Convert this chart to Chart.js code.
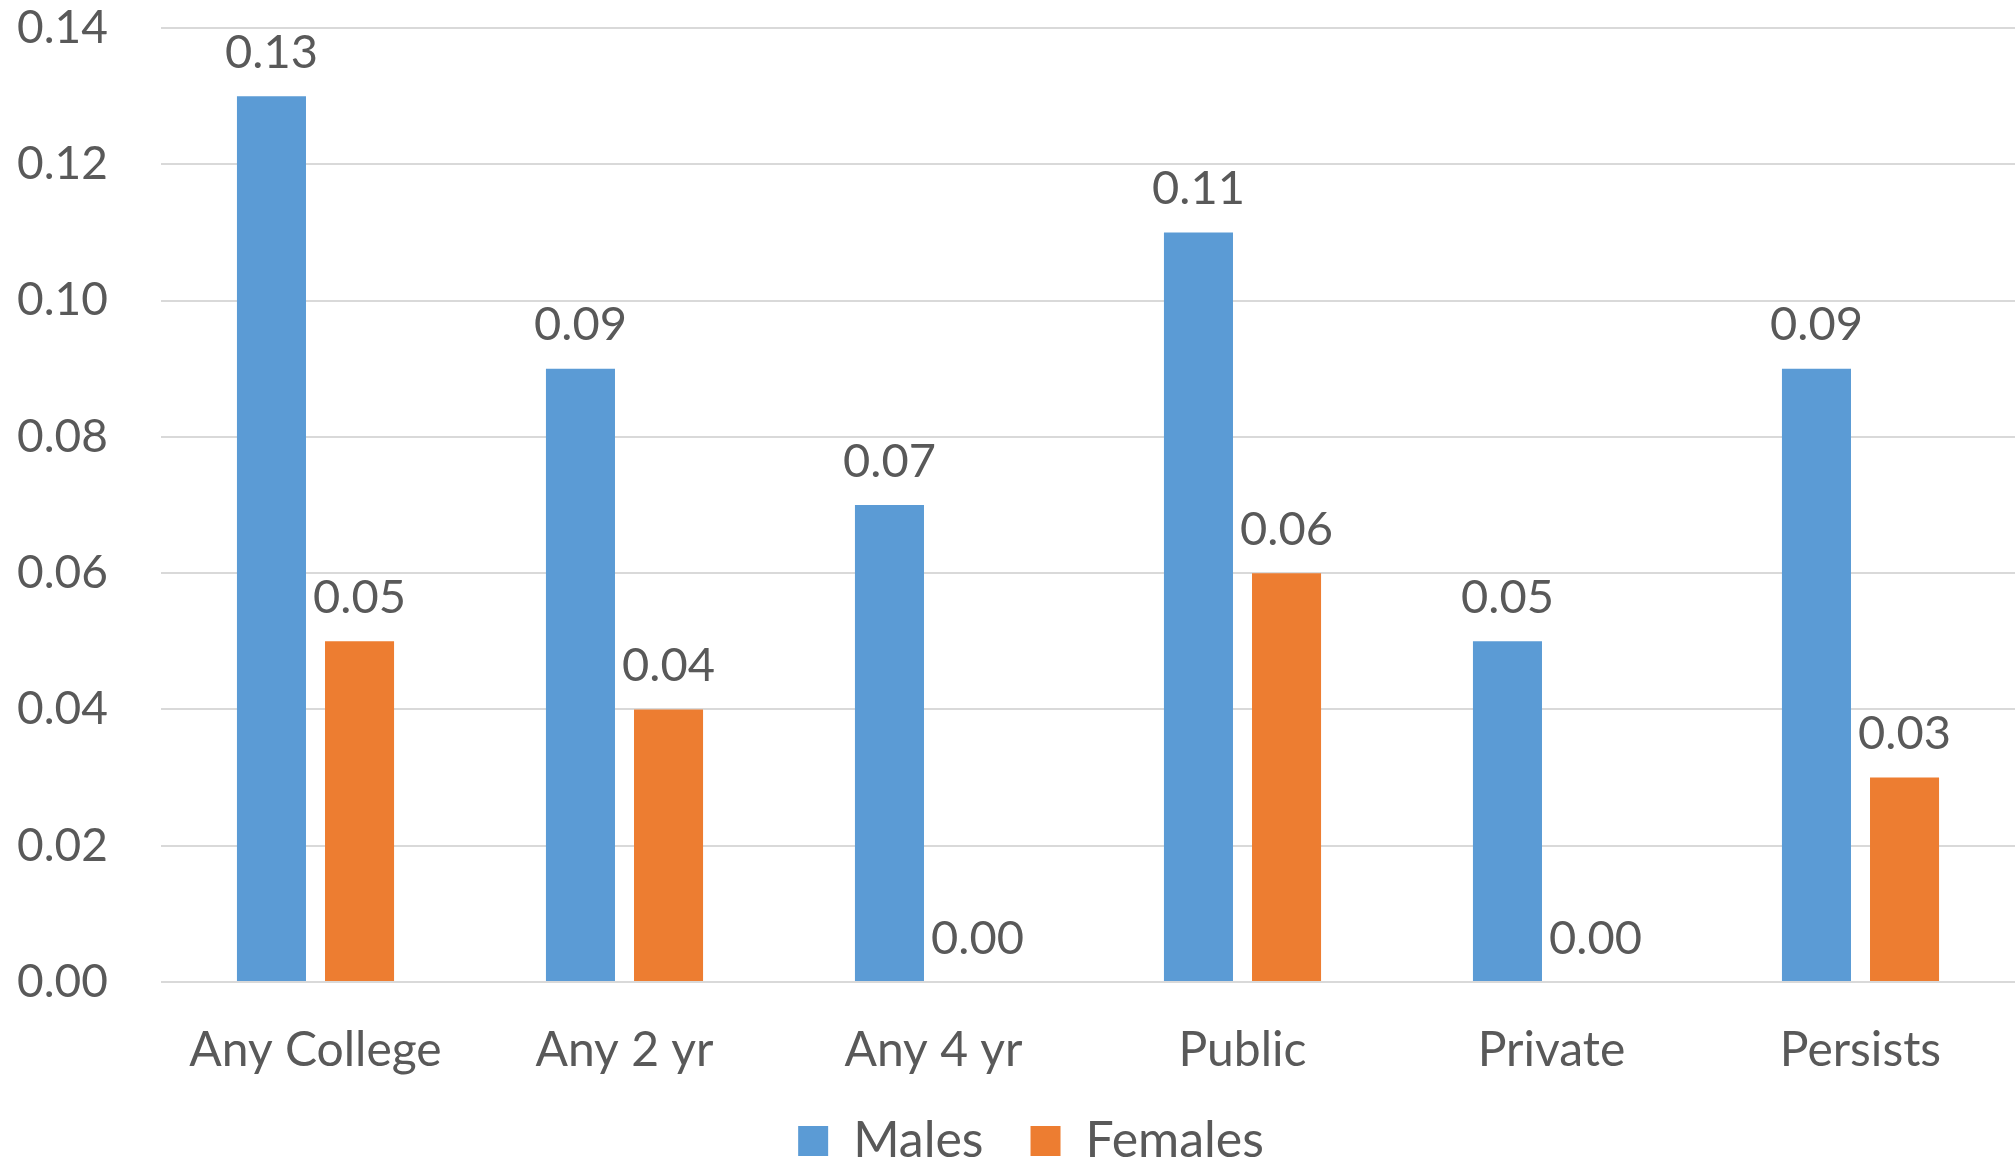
<!DOCTYPE html>
<html><head><meta charset="utf-8">
<script src="https://cdn.jsdelivr.net/npm/chart.js@4/dist/chart.umd.min.js"></script>
<style>html,body{margin:0;padding:0;background:#fff}#wrap{width:2015px;height:1159px}</style>
</head><body><div id="wrap"><canvas id="c" width="2015" height="1159"></canvas></div>
<script>
const categories = ["Any College", "Any 2 yr", "Any 4 yr", "Public", "Private", "Persists"];
const males = [0.13, 0.09, 0.07, 0.11, 0.05, 0.09];
const females = [0.05, 0.04, 0.00, 0.06, 0.00, 0.03];
const yTicks = [0, 0.02, 0.04, 0.06, 0.08, 0.10, 0.12, 0.14];

const FONT = "Lato, 'Open Sans', sans-serif";
const TXT = "#595959";

const valueLabels = {
  id: "valueLabels",
  afterDatasetsDraw(chart) {
    const ctx = chart.ctx;
    ctx.save();
    ctx.font = "47px " + FONT;
    ctx.fillStyle = TXT;
    ctx.textAlign = "center";
    ctx.textBaseline = "bottom";
    chart.data.datasets.forEach((ds, i) => {
      chart.getDatasetMeta(i).data.forEach((bar, j) => {
        ctx.fillText(ds.data[j].toFixed(2), bar.x, bar.y - 20);
      });
    });
    ctx.restore();
  }
};

const layoutTweak = {
  id: "layoutTweak",
  afterLayout(chart) {
    const sx = chart.scales.x;
    sx.bottom = sx.top + 150;
    const lg = chart.legend;
    if (lg) { lg.left += 15; lg.right += 15; }
  }
};

new Chart(document.getElementById("c"), {
  type: "bar",
  data: {
    labels: categories,
    datasets: [
      { label: "Males", data: males, backgroundColor: "#5B9BD5", categoryPercentage: 0.57, barPercentage: 0.784 },
      { label: "Females", data: females, backgroundColor: "#ED7D31", categoryPercentage: 0.57, barPercentage: 0.784 }
    ]
  },
  options: {
    responsive: false,
    animation: false,
    layout: { padding: { top: 28, right: 0, left: 17, bottom: -17 } },
    plugins: {
      tooltip: { enabled: false },
      legend: {
        position: "bottom",
        labels: {
          color: TXT,
          font: { family: FONT, size: 50 },
          boxWidth: 30, boxHeight: 30, padding: 47
        }
      }
    },
    scales: {
      y: {
        min: 0, max: 0.14,
        afterBuildTicks(scale) { scale.ticks = yTicks.map(v => ({ value: v })); },
        afterFit(scale) { scale.width = 144; },
        grid: { color: "#d9d9d9", lineWidth: 2, drawTicks: false },
        border: { display: false },
        ticks: {
          color: TXT, padding: 0, crossAlign: "far",
          font: { family: FONT, size: 46 },
          callback: v => Number(v).toFixed(2)
        }
      },
      x: {
        afterFit(scale) { scale.height = 87; },
        grid: { display: false, drawTicks: false },
        border: { display: false },
        ticks: { color: TXT, padding: 40, font: { family: FONT, size: 48 } }
      }
    }
  },
  plugins: [valueLabels, layoutTweak]
});
</script></body></html>
